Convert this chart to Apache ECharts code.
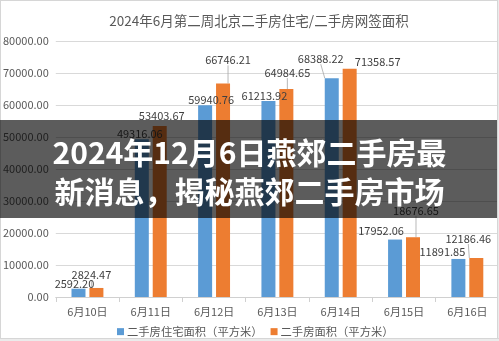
<!DOCTYPE html>
<html>
<head>
<meta charset="utf-8">
<script src="https://cdn.jsdelivr.net/npm/echarts@6/dist/echarts.min.js"></script>
<style>
  html, body { margin: 0; padding: 0; background: #ebebeb; }
  #wrap { position: relative; width: 499px; height: 341px; overflow: hidden; }
  #paper { position: absolute; left: 0; top: 0; width: 498px; height: 339px;
           box-sizing: border-box; background: #fff; border: 1px solid #d6d6d6; }
  #chart { position: absolute; left: 0; top: 0; width: 499px; height: 341px; }
  #edgeR { position: absolute; left: 497px; top: 0; width: 2px; height: 341px;
           background: #ebebeb; border-left: 1px solid #d6d6d6; box-sizing: border-box; }
  #edgeB { position: absolute; left: 0; top: 338px; width: 499px; height: 3px;
           background: #ebebeb; border-top: 1px solid #d6d6d6; box-sizing: border-box; }
</style>
</head>
<body>
<div id="wrap">
  <div id="paper"></div>
  <div id="chart"></div>
  <div id="edgeR"></div>
  <div id="edgeB"></div>
</div>
<script>
// Daily dates of the week
const categories = ['6月10日', '6月11日', '6月12日', '6月13日', '6月14日', '6月15日', '6月16日'];
// 二手房住宅面积（平方米）
const residentialArea = [2592.20, 49316.06, 59940.76, 61213.92, 68388.22, 17952.06, 11891.85];
// 二手房面积（平方米）
const totalArea = [2824.47, 53403.67, 66746.21, 64984.65, 71358.57, 18676.65, 12186.46];
// Value axis
const yMin = 0;
const yMax = 80000;
const yStep = 10000;

const seriesNames = ['二手房住宅面积（平方米）', '二手房面积（平方米）'];
const titleText = '2024年6月第二周北京二手房住宅/二手房网签面积';
const bannerLines = ['2024年12月6日燕郊二手房最', '新消息，揭秘燕郊二手房市场'];

// Hand-placed data label nudges [dx, dy] (Excel-style label layout)
const labelShift = [
  [[-4, 5], [-2, 4], [6, 4], [-4, 4], [-11, -10], [-14, 1], [-16, 2]],
  [[-5, -4], [2, -1], [5, -14], [1, -7], [28, 3], [3, -17], [-8, -10]]
];
// Which labels get a leader line back to their bar
const leader = [
  [false, false, false, false, true, false, false],
  [true, false, true, true, false, true, true]
];

const FONT = '"Noto Sans CJK SC", "Noto Sans", sans-serif';
const GREY = '#595959';

function buildData(values, s) {
  return values.map((v, i) => ({
    value: v,
    labelLine: { show: leader[s][i] }
  }));
}

function barSeries(name, values, color, s) {
  return {
    name: name,
    type: 'bar',
    barWidth: 14,
    barGap: '28%',
    itemStyle: { color: color },
    data: buildData(values, s),
    label: {
      show: true,
      position: 'top',
      distance: 4,
      fontFamily: FONT,
      fontSize: 11,
      color: '#404040',
      formatter: p => p.value.toFixed(2)
    },
    labelLine: {
      show: false,
      lineStyle: { color: '#a6a6a6', width: 0.8 }
    },
    labelLayout: p => {
      const d = labelShift[s][p.dataIndex];
      return { dx: d[0], dy: d[1] };
    }
  };
}

const chart = echarts.init(document.getElementById('chart'), null, { renderer: 'canvas' });
chart.setOption({
  backgroundColor: 'transparent',
  animation: false,
  grid: { left: 55, right: 0, top: 41, bottom: 44, containLabel: false },
  legend: {
    left: 112,
    top: 321,
    icon: 'rect',
    itemWidth: 7,
    itemHeight: 7,
    itemGap: 8,
    textStyle: { fontFamily: FONT, fontSize: 11.3, color: GREY, padding: [0, 0, 0, -2] },
    data: seriesNames
  },
  xAxis: {
    type: 'category',
    data: categories,
    axisLine: { lineStyle: { color: '#d0d0d0' } },
    axisTick: { show: true, length: 5, lineStyle: { color: '#d0d0d0' } },
    axisLabel: { fontFamily: FONT, fontSize: 11, color: GREY, margin: 9 }
  },
  yAxis: {
    type: 'value',
    min: yMin,
    max: yMax,
    interval: yStep,
    axisLine: { show: false },
    axisTick: { show: false },
    splitLine: { lineStyle: { color: '#d9d9d9' } },
    axisLabel: {
      fontFamily: FONT, fontSize: 11, color: GREY, margin: 7,
      formatter: v => v.toFixed(2)
    }
  },
  series: [
    barSeries(seriesNames[0], residentialArea, '#5b9bd5', 0),
    barSeries(seriesNames[1], totalArea, '#ed7d31', 1)
  ],
  graphic: [
    {
      type: 'text', x: 259, y: 21, z: 10,
      style: {
        text: titleText, fontFamily: FONT, fontSize: 13.5, fill: GREY,
        align: 'center', verticalAlign: 'middle'
      }
    },
    {
      type: 'rect', z: 100,
      shape: { x: 0, y: 120, width: 499, height: 98 },
      style: { fill: 'rgba(0,0,0,0.64)' }
    },
    {
      type: 'text', x: 249.5, y: 153, z: 101,
      style: {
        text: bannerLines[0], fontFamily: FONT, fontSize: 30, fontWeight: 'bold',
        fill: '#ffffff', align: 'center', verticalAlign: 'middle',
        shadowColor: 'rgba(0,0,0,0.4)', shadowBlur: 2
      }
    },
    {
      type: 'text', x: 249.5, y: 192, z: 101,
      style: {
        text: bannerLines[1], fontFamily: FONT, fontSize: 30, fontWeight: 'bold',
        fill: '#ffffff', align: 'center', verticalAlign: 'middle',
        shadowColor: 'rgba(0,0,0,0.4)', shadowBlur: 2
      }
    }
  ]
});
</script>
</body>
</html>
